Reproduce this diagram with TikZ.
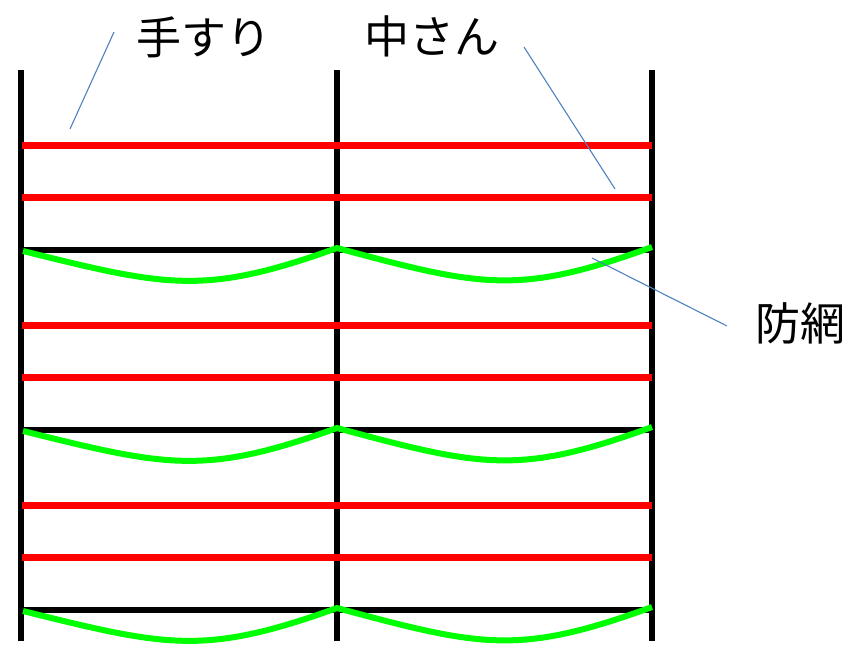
\documentclass[tikz,border=0pt]{standalone}
\usepackage{fontspec}
\newfontfamily\jpfont{Noto Sans CJK JP}
\begin{document}
\begin{tikzpicture}[x=1pt,y=-1pt,
  post/.style={line width=6.5pt,black},
  rail/.style={line width=7pt,red},
  beam/.style={line width=6pt,black},
  net/.style={line width=6pt,green,line join=round},
  leader/.style={line width=1.1pt,draw={rgb,255:red,79;green,129;blue,189}},
  lbl/.style={font=\jpfont\fontsize{45}{45}\selectfont,inner sep=0pt,anchor=center}]
\useasboundingbox (0,0) rectangle (853,646);
% posts
\foreach \x in {21,337,652}{\draw[post] (\x,70) -- (\x,641);}
% rows
\foreach \y in {0,180,360}{
  \draw[beam] (21,250+\y) -- (652,250+\y);
  \draw[rail] (22,145+\y) -- (652,145+\y);
  \draw[rail] (22,197+\y) -- (652,197+\y);
  \draw[net] (23,251+\y) .. controls (168,287+\y) and (205,295.5+\y) .. (337,248+\y)
             .. controls (482,287+\y) and (519,295.5+\y) .. (652,247+\y);
}
% labels
\node[lbl] (tesuri) at (204,37) {手すり};
\node[lbl] (nakasan) at (432,36) {中さん};
\node[lbl] (bomo) at (800,323) {防網};
\coordinate (t1) at (114,32); \coordinate (t2) at (70,129);
\coordinate (n1) at (524,47); \coordinate (n2) at (615,189);
\coordinate (b1) at (727,326); \coordinate (b2) at (592,258);
\draw[leader] (t1) -- (t2);
\draw[leader] (n1) -- (n2);
\draw[leader] (b1) -- (b2);
\end{tikzpicture}
\end{document}
